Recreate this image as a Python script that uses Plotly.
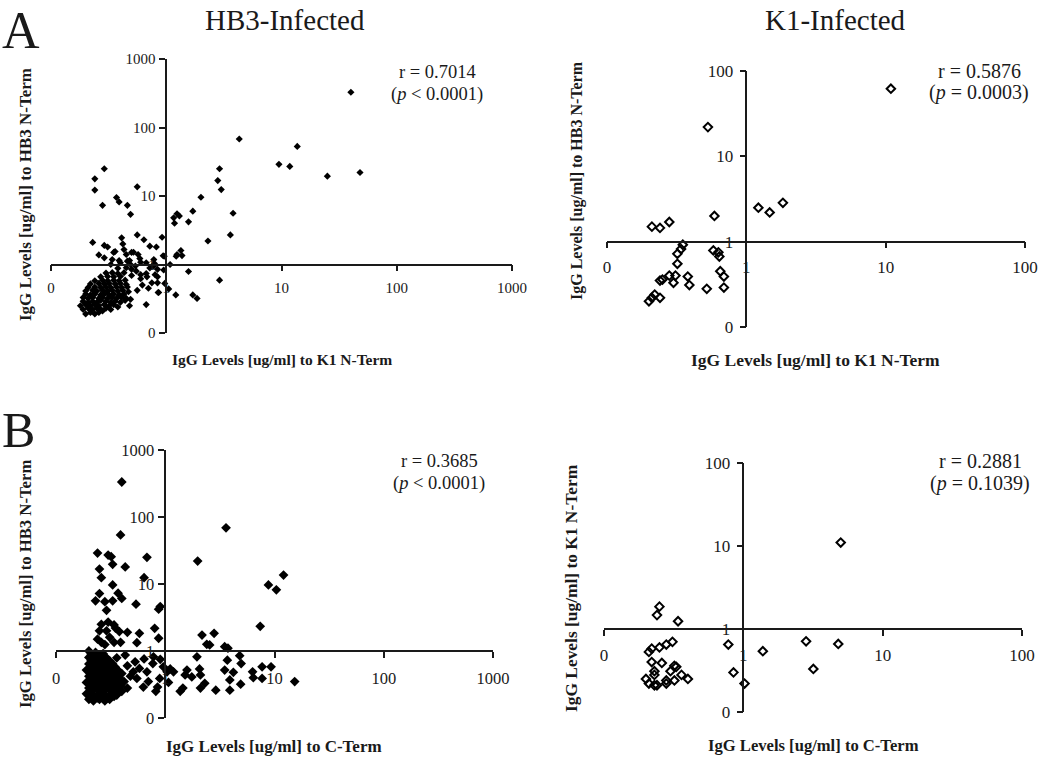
import plotly.graph_objects as go

# ---------------- data ----------------
# A, HB3-infected: IgG to K1 N-Term (x) vs IgG to HB3 N-Term (y)
hb3_a_x = [
    40, 4.3, 13.7, 9.5, 11.8, 25, 48, 2.9, 2.8, 3.0, 2.0, 1.7, 1.56, 3.8, 3.6, 2.3, 1.24, 1.3, 1.16,
    1.18, 1.24, 1.34, 1.22, 1.37, 0.94, 0.92, 0.82, 1.08, 1.56, 2.9, 1.7, 1.85, 1.21, 1.05, 0.97, 0.85, 0.67,
    0.24, 0.24, 0.29, 0.28, 0.37, 0.39, 0.46, 0.49, 0.56, 0.23, 0.56, 0.64, 0.41, 0.42, 0.29, 0.31, 0.26,
    0.29, 0.36, 0.43, 0.45, 0.50, 0.57, 0.72, 0.52, 0.59, 0.67, 0.78, 0.34, 0.33, 0.40, 0.48, 0.54, 0.46,
    0.49, 0.60, 0.79, 0.78, 0.96, 0.35, 0.39,
    0.72, 0.84, 0.80, 0.84, 0.95, 0.67, 0.68, 0.60, 0.60, 0.50, 0.50, 0.75, 0.84, 0.86, 0.49, 0.48, 0.40,
    0.55, 0.45, 0.38, 0.62, 0.70, 0.56,
    0.20, 0.22, 0.24, 0.26, 0.28,
    0.19, 0.21, 0.23, 0.25, 0.27, 0.30, 0.33,
    0.18, 0.20, 0.22, 0.24, 0.26, 0.29, 0.32, 0.35, 0.38,
    0.19, 0.21, 0.23, 0.25, 0.27, 0.30, 0.33, 0.36, 0.40, 0.44,
    0.19, 0.21, 0.23, 0.26, 0.28, 0.31, 0.34, 0.37, 0.41, 0.45,
    0.20, 0.22, 0.24, 0.27, 0.29, 0.32, 0.35, 0.39, 0.43,
    0.20, 0.23, 0.25, 0.28, 0.31, 0.34, 0.38, 0.42, 0.47,
    0.21, 0.24, 0.27, 0.30, 0.33, 0.37, 0.41, 0.46,
    0.22, 0.26, 0.29, 0.32, 0.36, 0.40, 0.45,
    0.24, 0.28, 0.31, 0.35, 0.39, 0.44,
    0.27, 0.31, 0.35, 0.40,
    0.30, 0.34, 0.38, 0.43,
]
hb3_a_y = [
    327, 68, 53, 29, 27, 19.5, 22, 25, 16.8, 12.4, 9.6, 6.0, 4.2, 5.6, 2.7, 2.2, 5.5, 5.1, 4.8,
    4.0, 1.4, 1.6, 1.32, 1.35, 1.34, 2.5, 1.8, 1.0, 0.79, 0.59, 0.36, 0.32, 0.36, 0.44, 0.53, 0.39, 0.26,
    17.8, 12.2, 25, 7.3, 9.5, 8.2, 7.3, 5.4, 13.6, 2.1, 2.7, 2.3, 2.45, 2.0, 1.9, 1.8, 1.38,
    1.25, 1.55, 1.65, 1.4, 1.5, 1.4, 1.85, 1.51, 1.22, 1.06, 0.95, 1.18, 1.0, 1.06, 1.14, 0.95, 1.12,
    1.0, 1.08, 1.03, 1.18, 1.32, 1.5, 1.14,
    0.89, 0.85, 0.71, 0.66, 0.83, 0.74, 0.66, 0.71, 0.62, 0.85, 0.69, 0.54, 0.54, 0.39, 0.31, 0.25, 0.35,
    0.80, 0.90, 0.88, 0.50, 0.45, 0.42,
    0.19, 0.20, 0.19, 0.20, 0.21,
    0.22, 0.23, 0.22, 0.23, 0.22, 0.23, 0.22,
    0.25, 0.26, 0.25, 0.26, 0.25, 0.26, 0.25, 0.26, 0.24,
    0.29, 0.28, 0.29, 0.28, 0.30, 0.29, 0.28, 0.29, 0.28, 0.30,
    0.33, 0.32, 0.33, 0.32, 0.33, 0.32, 0.33, 0.32, 0.33, 0.32,
    0.37, 0.36, 0.37, 0.36, 0.37, 0.36, 0.37, 0.36, 0.37,
    0.41, 0.42, 0.41, 0.42, 0.41, 0.42, 0.41, 0.42, 0.40,
    0.46, 0.47, 0.46, 0.47, 0.46, 0.47, 0.46, 0.47,
    0.52, 0.53, 0.52, 0.53, 0.52, 0.53, 0.51,
    0.58, 0.59, 0.58, 0.59, 0.58, 0.59,
    0.66, 0.67, 0.66, 0.67,
    0.75, 0.76, 0.74, 0.76,
]

# A, K1-infected: IgG to K1 N-Term (x) vs IgG to HB3 N-Term (y)
k1_a_x = [10.9, 0.53, 1.22, 1.47, 1.83, 0.59, 0.21, 0.24, 0.28, 0.35, 0.34, 0.32, 0.32, 0.58, 0.63, 0.64,
          0.65, 0.69, 0.69, 0.52, 0.38, 0.39, 0.28, 0.31, 0.30, 0.24, 0.25, 0.20, 0.22, 0.24, 0.21]
k1_a_y = [62, 22, 2.5, 2.2, 2.85, 2.0, 1.5, 1.45, 1.7, 0.92, 0.82, 0.72, 0.55, 0.79, 0.75, 0.67,
          0.45, 0.39, 0.29, 0.28, 0.39, 0.31, 0.40, 0.40, 0.33, 0.35, 0.36, 0.20, 0.24, 0.22, 0.22]

# B, HB3-infected: IgG to C-Term (x) vs IgG to HB3 N-Term (y)
hb3_b_x = [
    0.40, 0.39, 3.6, 1.98, 12.1, 8.8, 10.4, 7.4, 0.68, 0.64, 0.24, 0.25, 0.30, 0.32, 0.26, 0.33, 0.43,
    0.33, 0.25, 0.37, 0.40, 0.23, 0.28, 0.33, 0.29, 0.54, 0.87, 0.90, 0.26, 0.30, 0.34, 0.25, 0.29, 0.35,
    0.38, 0.45, 0.58, 0.80, 0.87, 0.55, 0.26, 0.28, 0.34, 0.39, 0.31, 0.24,
    2.17, 2.4, 2.55, 2.8, 3.5, 3.75, 1.95, 3.7, 4.8, 4.95, 9.3, 7.7, 6.3, 6.4, 7.7, 4.2, 3.9, 4.9, 3.5,
    3.9, 2.9, 15.3, 2.1, 2.06, 2.3, 2.1, 1.58, 1.52, 1.75, 1.37, 1.45, 1.11, 1.19, 0.96, 1.04, 0.89, 1.07,
    0.85, 0.82, 0.78, 0.77, 0.64, 0.68, 0.63, 0.70, 0.53, 0.51, 0.55, 0.43, 0.45, 0.40, 0.42, 0.45, 0.36,
    0.40, 0.48, 0.58, 0.90,
    0.20, 0.23,
    0.20, 0.22, 0.25, 0.29,
    0.20, 0.22, 0.25, 0.29, 0.33,
    0.19, 0.22, 0.25, 0.29, 0.33, 0.37,
    0.20, 0.22, 0.26, 0.29, 0.33, 0.37,
    0.19, 0.22, 0.25, 0.29, 0.32, 0.37,
    0.20, 0.23, 0.25, 0.29, 0.33, 0.36,
    0.19, 0.22, 0.25, 0.28, 0.32, 0.36,
    0.20, 0.22, 0.25, 0.28, 0.31,
    0.21, 0.24, 0.27,
    0.21, 0.24, 0.27, 0.31,
    0.21, 0.24, 0.27, 0.31, 0.35,
    0.21, 0.24, 0.27, 0.31, 0.35, 0.39,
    0.21, 0.24, 0.27, 0.31, 0.35, 0.39,
    0.21, 0.24, 0.27, 0.31, 0.35, 0.39,
    0.21, 0.24, 0.27, 0.31, 0.35, 0.38,
    0.21, 0.24, 0.27, 0.30, 0.34,
]
hb3_b_y = [
    333, 54, 69, 22, 13.6, 9.7, 8.2, 2.34, 25, 12.4, 29, 16.7, 27, 25.6, 12.4, 19.7, 18,
    9.7, 7.2, 7.3, 6.1, 5.6, 5.45, 5.6, 4.05, 5.0, 4.2, 4.6, 2.5, 2.7, 2.45, 2.0, 2.0, 2.2,
    1.95, 1.9, 1.84, 2.18, 1.55, 1.33, 1.35, 1.25, 1.35, 1.35, 1.6, 1.5,
    1.73, 1.26, 1.23, 1.84, 1.16, 1.1, 0.82, 0.73, 0.85, 0.65, 0.58, 0.58, 0.49, 0.40, 0.39, 0.48, 0.37, 0.32, 0.52,
    0.26, 0.26, 0.35, 0.44, 0.54, 0.33, 0.28, 0.52, 0.44, 0.41, 0.25, 0.28, 0.54, 0.49, 0.58, 0.49, 0.39, 0.34,
    0.29, 0.25, 0.82, 0.65, 0.76, 0.49, 0.29, 0.35, 0.69, 0.49, 0.39, 0.87, 0.60, 0.46, 0.35, 0.28, 0.79,
    0.25, 0.42, 0.55, 0.75,
    1.0, 0.95,
    0.80, 0.78, 0.81, 0.79,
    0.64, 0.66, 0.63, 0.65, 0.64,
    0.52, 0.53, 0.51, 0.52, 0.53, 0.51,
    0.42, 0.43, 0.41, 0.42, 0.43, 0.42,
    0.34, 0.35, 0.33, 0.34, 0.35, 0.34,
    0.28, 0.29, 0.27, 0.28, 0.29, 0.27,
    0.23, 0.22, 0.23, 0.22, 0.23, 0.22,
    0.19, 0.18, 0.19, 0.18, 0.19,
    0.90, 0.88, 0.91,
    0.72, 0.70, 0.73, 0.71,
    0.58, 0.57, 0.59, 0.58, 0.57,
    0.47, 0.46, 0.48, 0.47, 0.46, 0.47,
    0.38, 0.37, 0.39, 0.38, 0.37, 0.38,
    0.31, 0.30, 0.31, 0.30, 0.31, 0.30,
    0.25, 0.26, 0.25, 0.26, 0.25, 0.25,
    0.21, 0.20, 0.21, 0.20, 0.21,
]

# B, K1-infected: IgG to C-Term (x) vs IgG to K1 N-Term (y)
k1_b_x = [5.0, 0.25, 0.24, 0.34, 0.78, 1.38, 2.82, 4.8, 3.18, 0.85, 1.02, 0.31, 0.28, 0.25, 0.22, 0.21,
          0.22, 0.26, 0.32, 0.33, 0.30, 0.23, 0.23, 0.36, 0.40, 0.20, 0.21, 0.23, 0.24, 0.28, 0.28, 0.32]
k1_b_y = [11, 1.86, 1.47, 1.24, 0.65, 0.54, 0.71, 0.66, 0.33, 0.30, 0.22, 0.70, 0.65, 0.60, 0.58, 0.53,
          0.40, 0.39, 0.36, 0.35, 0.31, 0.31, 0.28, 0.28, 0.25, 0.25, 0.22, 0.21, 0.21, 0.24, 0.22, 0.24]

col_titles = ["HB3-Infected", "K1-Infected"]
x_titles = ["IgG Levels [ug/ml] to K1 N-Term", "IgG Levels [ug/ml] to K1 N-Term",
            "IgG Levels [ug/ml] to C-Term", "IgG Levels [ug/ml] to C-Term"]
y_titles = ["IgG Levels [ug/ml] to HB3 N-Term", "IgG Levels [ug/ml] to HB3 N-Term",
            "IgG Levels [ug/ml] to HB3 N-Term", "IgG Levels [ug/ml] to K1 N-Term"]
r_text = ["r = 0.7014", "r = 0.5876", "r = 0.3685", "r = 0.2881"]
p_text = ["(<i>p</i> < 0.0001)", "(<i>p</i> = 0.0003)", "(<i>p</i> < 0.0001)", "(<i>p</i> = 0.1039)"]
tick_vals = [0.1, 1, 10, 100, 1000]
tick_text = ["0", "1", "10", "100", "1000"]

W, H = 1050, 770
SERIF = "Liberation Serif, Times New Roman, serif"
INK = "#1a1a1a"

# plot boxes in pixels: left, right, top, bottom; decades on x and y
panels = [
    dict(box=(51, 512, 59, 333), dec=(4, 4), x=hb3_a_x, y=hb3_a_y, open=False, msize=5.5,
         tfont=15, xs=4, ys=1, xt=(282, 360, 15.5), yt=(25, 195, 17), rp=(437, 72, 94, 18.5)),
    dict(box=(607, 1025, 71, 327), dec=(3, 3), x=k1_a_x, y=k1_a_y, open=True, msize=6.5,
         tfont=17, xs=4, ys=3, xt=(815, 360, 17.5), yt=(577, 181, 16), rp=(979, 71, 93, 20)),
    dict(box=(56, 493, 450, 718), dec=(4, 4), x=hb3_b_x, y=hb3_b_y, open=False, msize=7.5,
         tfont=16.5, xs=6, ys=1, xt=(274, 746, 17), yt=(25, 584, 16.7), rp=(439, 461, 483, 18.5)),
    dict(box=(604, 1022, 463, 712), dec=(3, 3), x=k1_b_x, y=k1_b_y, open=True, msize=6.5,
         tfont=17, xs=5, ys=3, xt=(813, 745, 16.6), yt=(571, 588, 17.4), rp=(980, 461, 483, 20)),
]


def px(v):
    return v / W


def py(v):
    return 1 - v / H


def label(text, x, y, size, angle=0, xanchor="center"):
    return dict(text=text, x=px(x), y=py(y), xref="paper", yref="paper", showarrow=False,
                xanchor=xanchor, yanchor="middle", textangle=angle,
                font=dict(family=SERIF, size=size, color=INK))


fig = go.Figure()
layout = {}
annotations = []

for i, p in enumerate(panels, start=1):
    left, right, top, bottom = p["box"]
    dx, dy = p["dec"]
    xdom = [px(left), px(right)]
    ydom = [py(bottom), py(top)]
    xr = [-1, -1 + dx]
    yr = [-1, -1 + dy]
    # the two axes cross at the value 1
    x_line_pos = ydom[0] + (0 - yr[0]) / (yr[1] - yr[0]) * (ydom[1] - ydom[0])
    y_line_pos = xdom[0] + (0 - xr[0]) / (xr[1] - xr[0]) * (xdom[1] - xdom[0])
    suffix = "" if i == 1 else str(i)

    if p["open"]:
        marker = dict(symbol="diamond-open", size=p["msize"], color="black", line=dict(width=2, color="black"))
    else:
        marker = dict(symbol="diamond", size=p["msize"], color="black", line=dict(width=0))

    fig.add_trace(go.Scatter(
        x=p["x"], y=p["y"], mode="markers", marker=marker,
        xaxis="x" + suffix, yaxis="y" + suffix, showlegend=False,
    ))

    common = dict(
        type="log", showgrid=False, zeroline=False, showline=True, linecolor=INK, linewidth=1.6,
        ticks="outside", ticklen=6, tickwidth=1.6, tickcolor=INK, anchor="free",
        tickfont=dict(family=SERIF, size=p["tfont"], color=INK), automargin=False,
    )
    layout["xaxis" + suffix] = dict(common, domain=xdom, range=xr, position=x_line_pos,
                                    tickvals=tick_vals[:dx + 1], ticktext=tick_text[:dx + 1],
                                    ticklabelstandoff=p["xs"])
    layout["yaxis" + suffix] = dict(common, domain=ydom, range=yr, position=y_line_pos,
                                    tickvals=tick_vals[:dy + 1], ticktext=tick_text[:dy + 1],
                                    ticklabelstandoff=p["ys"])

    xt_x, xt_y, xt_s = p["xt"]
    annotations.append(label("<b>" + x_titles[i - 1] + "</b>", xt_x, xt_y, xt_s))
    yt_x, yt_y, yt_s = p["yt"]
    annotations.append(label("<b>" + y_titles[i - 1] + "</b>", yt_x, yt_y, yt_s, angle=-90))
    rx, ry, pyy, rs = p["rp"]
    annotations.append(label(r_text[i - 1], rx, ry, rs))
    annotations.append(label(p_text[i - 1], rx, pyy, rs))

# column titles and panel letters
annotations.append(label(col_titles[0], 285, 20, 29))
annotations.append(label(col_titles[1], 835, 20, 29))
annotations.append(label("A", 0, 31, 52, xanchor="left"))
annotations.append(label("B", 0, 430, 50, xanchor="left"))

fig.update_layout(
    width=W, height=H, margin=dict(l=0, r=0, t=0, b=0),
    plot_bgcolor="white", paper_bgcolor="white",
    annotations=annotations, **layout,
)

# drop the default 8px page margin so the figure sits at the window's corner
fig.write_html("out.html", config={"displayModeBar": False},
               post_script="document.body.style.margin='0';")
